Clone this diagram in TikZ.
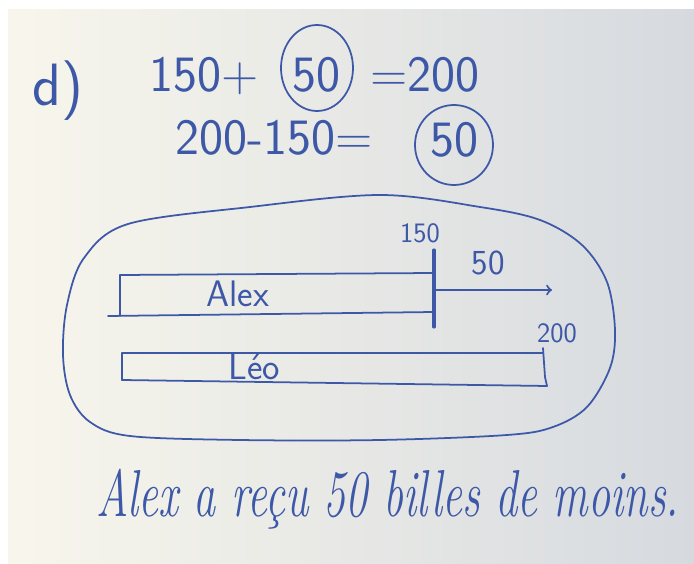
\documentclass[tikz,border=0pt]{standalone}
\usepackage{fontspec}
\usepackage{tikz}
\usepackage{graphicx}
\usetikzlibrary{positioning}

\definecolor{ink}{RGB}{62,88,168}
\definecolor{boardL}{RGB}{248,246,236}
\definecolor{boardR}{RGB}{214,218,223}

\tikzset{
  eq/.style={font=\sffamily\fontsize{29}{34}\selectfont\addfontfeature{LetterSpace=14}, inner sep=0pt, anchor=base},
  lab/.style={font=\sffamily\fontsize{21}{24}\selectfont, inner sep=0pt},
  num/.style={font=\sffamily\fontsize{16}{19}\selectfont\addfontfeature{LetterSpace=8}, inner sep=0pt},
  pen/.style={draw=ink, line width=1pt, line cap=round, line join=round}
}

\begin{document}
\begin{tikzpicture}[x=0.02cm, y=-0.02cm, ink]
	% Board
	\useasboundingbox (0,0) rectangle (694,564);
	\fill[white] (0,0) rectangle (694,564);
	\shade[left color=boardL, right color=boardR] (8,10) rectangle (694,564);
	
	% Equations
	\node[eq, font=\sffamily\fontsize{34}{40}\selectfont] (part) at (58,106) {d)};
	\node[eq] (sumL) at (204,92) {150+};
	\node[eq] (sumC) at (316,92) {50};
	\node[eq] (sumR) at (425,92) {=200};
	\node[eq, font=\sffamily\fontsize{29}{34}\selectfont\addfontfeature{LetterSpace=17}] (difL) at (274,155) {200-150=};
	\node[eq] (difC) at (454,157) {50};
	\draw[pen] (317,68) ellipse [x radius=36, y radius=43];
	\draw[pen] (454,145) ellipse [x radius=39, y radius=40];
	
	% Define coordinates
	\coordinate (A1) at (120,275);
	\coordinate (A2) at (434,273);
	\coordinate (A3) at (108,316);
	\coordinate (A4) at (434,312);
	\coordinate (L1) at (122,353);
	\coordinate (L2) at (543,353);
	\coordinate (L3) at (122,380);
	\coordinate (L4) at (547,386);
	\coordinate (T1) at (434,250);
	\coordinate (T2) at (434,327);
	\coordinate (E1) at (434,290);
	\coordinate (E2) at (552,290);
	
	% Outline
	\draw[pen] plot[smooth cycle, tension=0.55] coordinates {(128,224) (250,207) (380,195) (480,207) (540,220) (582,245) (607,282) (615,330) (610,368) (587,407) (553,427) (507,435) (380,440) (240,440) (130,436) (90,422) (70,395) (63,355) (67,305) (84,258)};
	
	% Alex bar
	\draw[pen] (A1) -- (A1 |- A3);
	\draw[pen] (A1) -- (A2);
	\draw[pen] (A3) -- (A4);
	\draw[pen, line width=1.8pt] (T1) -- (T2);
	\draw[pen, ->, line width=1.2pt] (E1) -- (E2);
	\node[lab] (alex) at (238,294) {Alex};
	\node[num] (n150) at (420,233) {150};
	\node[lab, font=\sffamily\fontsize{20}{24}\selectfont\addfontfeature{LetterSpace=10}] (n50) at (488,263) {50};
	
	% Leo bar
	\draw[pen] (L1) -- (L3);
	\draw[pen] (L1) -- (L2);
	\draw[pen] (L3) -- (L4);
	\draw[pen] (543,348) -- (545,377) -- (L4);
	\node[lab] (leo) at (254,367) {Léo};
	\node[num] (n200) at (557,333) {200};
	
	% Conclusion
	\node[font=\itshape\fontsize{36}{40}\selectfont, inner sep=0pt, anchor=base] (concl) at (388,517) {\scalebox{0.7}[1.05]{Alex a reçu 50 billes de moins.}};
\end{tikzpicture}
\end{document}
